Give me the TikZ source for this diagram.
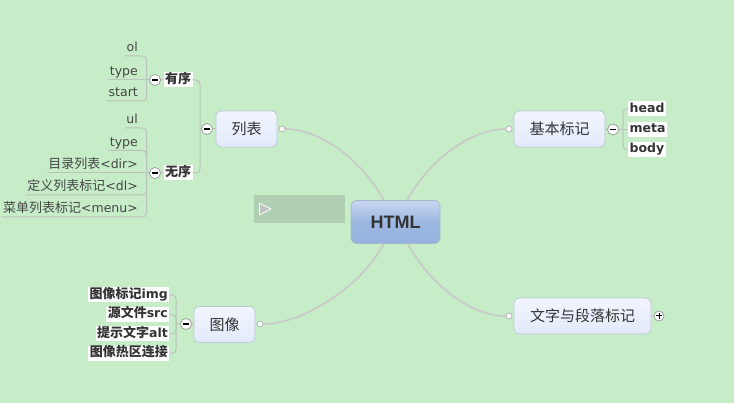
\documentclass[tikz,border=0pt]{standalone}
\usepackage{fontspec}
\setmainfont{DejaVu Sans}
\newfontfamily\cjk{Noto Sans CJK SC}
\newfontfamily\htmlfont{Liberation Sans}
\usetikzlibrary{backgrounds}
\definecolor{bg}{RGB}{198,236,200}
\definecolor{topictop}{RGB}{241,245,254}
\definecolor{topicbot}{RGB}{226,234,250}
\definecolor{topicborder}{RGB}{190,200,214}
\definecolor{htmltop}{RGB}{200,215,240}
\definecolor{htmlbot}{RGB}{148,178,222}
\definecolor{htmlborder}{RGB}{168,182,206}
\definecolor{curvegray}{RGB}{200,202,200}
\definecolor{brgray}{RGB}{188,194,188}
\definecolor{textdark}{RGB}{51,51,51}
\definecolor{leafgray}{RGB}{70,70,70}
\definecolor{boxgray}{RGB}{176,206,178}
\definecolor{trigray}{RGB}{192,196,192}
\definecolor{circborder}{RGB}{150,150,150}
\tikzset{
  topic/.style={draw=topicborder, line width=0.8pt, rounded corners=5pt, top color=topictop, bottom color=topicbot,
    text=textdark, font=\cjk\fontsize{15}{18}\selectfont, minimum height=36pt, inner sep=0pt},
  central/.style={draw=htmlborder, line width=0.8pt, rounded corners=6pt, top color=htmltop, bottom color=htmlbot, middle color=htmlbot!85!htmltop,
    text=textdark, font=\htmlfont\bfseries\fontsize{18}{20}\selectfont, minimum width=89pt, minimum height=43pt, inner sep=0pt},
  dot/.style={circle, draw=gray!70, fill=white, line width=0.6pt, minimum size=6pt, inner sep=0pt},
  minus/.style={circle, draw=circborder, fill=white, line width=0.7pt, minimum size=11pt, inner sep=0pt,
    path picture={\draw[line width=1.1pt,black] ([xshift=-3pt]path picture bounding box.center) -- ([xshift=3pt]path picture bounding box.center);}},
  plus/.style={circle, draw=circborder, fill=white, line width=0.7pt, minimum size=10pt, inner sep=0pt,
    path picture={\draw[line width=1pt,black] ([xshift=-2.6pt]path picture bounding box.center) -- ([xshift=2.6pt]path picture bounding box.center)
      ([yshift=-2.6pt]path picture bounding box.center) -- ([yshift=2.6pt]path picture bounding box.center);}},
  curve/.style={draw=curvegray, line width=1.7pt},
  br/.style={draw=brgray, line width=1pt, rounded corners=4pt},
  leaf/.style={anchor=south east, inner xsep=1.5pt, inner ysep=1pt, text height=9.5pt, text depth=3pt,
    font=\fontsize{12.5}{14}\selectfont, text=leafgray},
  lab/.style={fill=white, inner xsep=1.5pt, inner ysep=1.5pt, text height=9.5pt, text depth=2.5pt,
    font=\bfseries\fontsize{12.5}{14}\selectfont, text=textdark},
  cjklab/.style={lab, font=\cjk\bfseries\fontsize{13}{14}\selectfont},
}
\newcommand{\zh}[1]{{\cjk\fontsize{13}{14}\selectfont #1}}
\newcommand{\zhb}[1]{{\cjk\bfseries\fontsize{13}{14}\selectfont #1}}
\begin{document}
\begin{tikzpicture}[x=1pt,y=-1pt]
\useasboundingbox (0,0) rectangle (734,403);

% main topics
\node[central] (html) at (395.5,222) {HTML};
\node[topic, minimum width=61pt] (lb) at (246.5,129) {列表};
\node[topic, minimum width=91pt] (jb) at (559.5,129) {基本标记};
\node[topic, minimum width=137pt] (wz) at (582.5,316) {文字与段落标记};
\node[topic, minimum width=61pt] (tx) at (224.5,324.5) {图像};

% connector end dots
\node[dot] (d1) at (282,129) {};
\node[dot] (d2) at (509,129) {};
\node[dot] (d3) at (260,324) {};
\node[dot] (d4) at (509,316) {};

\begin{scope}[on background layer]
  \fill[bg] (0,0) rectangle (734,403);
  \draw[curve] (d1) .. controls (320,129) and (362,160) .. (html);
  \draw[curve] (d2) .. controls (471,129) and (429,160) .. (html);
  \draw[curve] (d3) .. controls (302,324) and (360,288) .. (html);
  \draw[curve] (d4) .. controls (470,316) and (430,284) .. (html);
\end{scope}

% gray box with play triangle
\fill[boxgray] (254,195) rectangle (345,223);
\filldraw[fill=trigray, draw=white, line width=0.8pt, line join=round] (259.5,203) -- (259.5,215) -- (271,209) -- cycle;

% ---- 列表 branch
\node[minus] (m0) at (207,129) {};
\draw[br] (lb.west) -- (m0.east);
\coordinate (b0) at (200,129);
\node[cjklab] (yx) at (178,80) {有序};
\node[cjklab] (wx) at (178,173) {无序};
\draw[br] (m0.west) -- (b0);
\draw[br] (b0) |- (yx.east);
\draw[br] (b0) |- (wx.east);
\node[minus] (m1) at (155,80) {};
\node[minus] (m2) at (155,173) {};
\draw[br] (yx.west) -- (m1.east);
\draw[br] (wx.west) -- (m2.east);
\coordinate (b1) at (146.5,80);
\coordinate (b2) at (146.5,173);
\draw[br] (m1.west) -- (b1);
\draw[br] (m2.west) -- (b2);

\node[leaf] (ol) at (139.5,56) {ol};
\node[leaf] (ty1) at (139.5,80) {type};
\node[leaf] (st) at (139.5,101) {start};
\draw[br] (b1) |- (ol.south west);
\draw[br] (b1) -- (ty1.south west);
\draw[br] (b1) |- (st.south west);

\node[leaf] (ul) at (139.5,128) {ul};
\node[leaf] (ty2) at (139.5,150.5) {type};
\node[leaf] (dir) at (139.5,173) {\zh{目录列表}<dir>};
\node[leaf] (dl) at (139.5,195) {\zh{定义列表标记}<dl>};
\node[leaf] (menu) at (139.5,217) {\zh{菜单列表标记}<menu>};
\draw[br] (b2) |- (ul.south west);
\draw[br] (b2) |- (ty2.south west);
\draw[br] (b2) -- (dir.south west);
\draw[br] (b2) |- (dl.south west);
\draw[br] (b2) |- (menu.south west);

% ---- 基本标记 branch
\node[minus] (m3) at (613,129.5) {};
\draw[br] (jb.east) -- (m3.west);
\coordinate (b3) at (623,129.5);
\draw[br] (m3.east) -- (b3);
\node[lab, anchor=west] (head) at (628,109) {head};
\node[lab, anchor=west] (meta) at (628,129.5) {meta};
\node[lab, anchor=west] (body) at (628,149.5) {body};
\draw[br] (b3) |- (head.west);
\draw[br] (b3) -- (meta.west);
\draw[br] (b3) |- (body.west);

% ---- 图像 branch
\node[minus] (m4) at (186,324) {};
\draw[br] (tx.west) -- (m4.east);
\coordinate (b4) at (176,324);
\draw[br] (m4.west) -- (b4);
\node[lab, anchor=east] (i1) at (169.5,295) {\zhb{图像标记}img};
\node[lab, anchor=east] (i2) at (169.5,314.5) {\zhb{源文件}src};
\node[lab, anchor=east] (i3) at (169.5,334) {\zhb{提示文字}alt};
\node[lab, anchor=east] (i4) at (169.5,353.5) {\zhb{图像热区连接}};
\draw[br] (b4) |- (i1.east);
\draw[br] (b4) |- (i2.east);
\draw[br] (b4) |- (i3.east);
\draw[br] (b4) |- (i4.east);

% ---- 文字与段落标记
\node[plus] (p1) at (659,316) {};
\draw[br] (wz.east) -- (p1.west);
\end{tikzpicture}
\end{document}
